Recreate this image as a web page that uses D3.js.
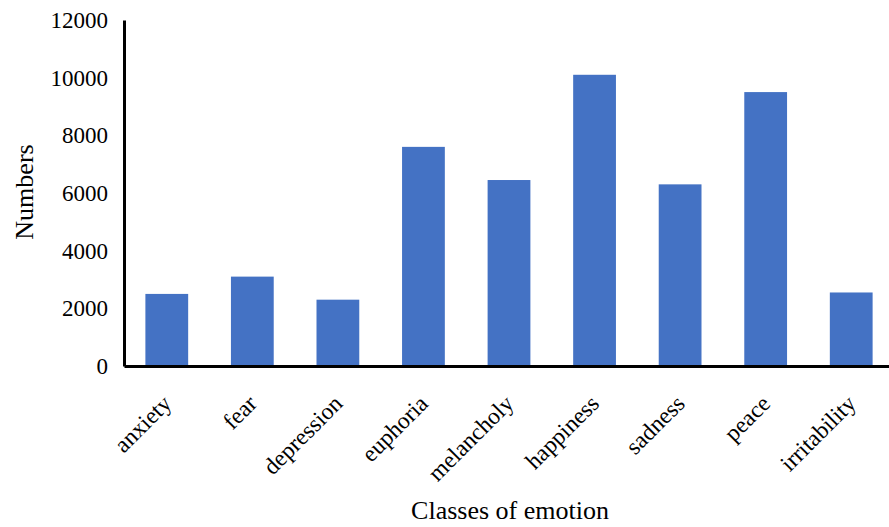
<!DOCTYPE html>
<html>
<head>
<meta charset="utf-8">
<script src="https://cdn.jsdelivr.net/npm/d3@7"></script>
<style>
  html, body { margin: 0; padding: 0; background: #fff; }
  svg { display: block; font-family: "Liberation Serif", "Times New Roman", serif; }
</style>
</head>
<body>
<svg id="chart" width="889" height="527"></svg>
<script>
// Counts per emotion class
const categories = ["anxiety", "fear", "depression", "euphoria", "melancholy", "happiness", "sadness", "peace", "irritability"];
const counts = [2500, 3100, 2300, 7600, 6450, 10100, 6300, 9500, 2550];
const yTicks = [0, 2000, 4000, 6000, 8000, 10000, 12000];

const data = categories.map((c, i) => ({ name: c, value: counts[i] }));

const svg = d3.select("#chart");
const plotLeft = 124, plotRight = 894, plotTop = 20, plotBottom = 366;

const x = d3.scaleBand().domain(categories).range([plotLeft, plotRight]).paddingInner(0.5).paddingOuter(0.25);
const y = d3.scaleLinear().domain([0, 12000]).range([plotBottom, plotTop]);

// Bars
svg.append("g").selectAll("rect")
  .data(data)
  .join("rect")
  .attr("x", d => x(d.name))
  .attr("y", d => y(d.value))
  .attr("width", x.bandwidth())
  .attr("height", d => y(0) - y(d.value))
  .attr("fill", "#4472C4");

// Y axis
const yAxis = svg.append("g")
  .attr("transform", `translate(${plotLeft},0)`)
  .call(d3.axisLeft(y).tickValues(yTicks).tickSize(0).tickPadding(16).tickFormat(d3.format("d")));
yAxis.select(".domain").attr("stroke", "#000").attr("stroke-width", 3);
yAxis.selectAll("text").attr("font-size", 23).attr("font-family", "Liberation Serif").attr("fill", "#000");

// X axis
const xAxis = svg.append("g")
  .attr("transform", `translate(0,${plotBottom})`)
  .call(d3.axisBottom(x).tickSize(0).tickPadding(0));
xAxis.select(".domain").attr("stroke", "#000").attr("stroke-width", 3);
xAxis.selectAll("text")
  .attr("font-size", 23.5)
  .attr("font-family", "Liberation Serif")
  .attr("fill", "#000")
  .attr("text-anchor", "end")
  .attr("dy", "0")
  .attr("transform", "translate(6,39) rotate(-45)");

// Axis titles
svg.append("text")
  .attr("transform", "translate(33,192) rotate(-90)")
  .attr("text-anchor", "middle")
  .attr("font-size", 26)
  .text("Numbers");

svg.append("text")
  .attr("x", 510)
  .attr("y", 519)
  .attr("text-anchor", "middle")
  .attr("font-size", 26)
  .text("Classes of emotion");
</script>
</body>
</html>
